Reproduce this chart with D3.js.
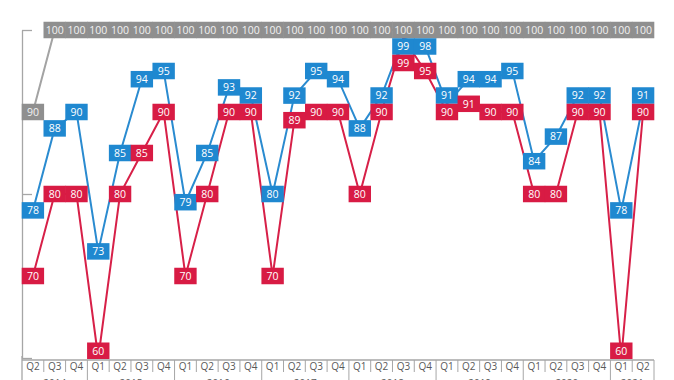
<!DOCTYPE html>
<html><head><meta charset="utf-8">
<script src="https://cdn.jsdelivr.net/npm/d3@7"></script>
<style>body{margin:0;background:#fff;} svg{display:block;font-family:"Open Sans",sans-serif;}</style>
</head><body><svg id="c" width="674" height="380"></svg>
<script>
const quarters = ["Q2","Q3","Q4","Q1","Q2","Q3","Q4","Q1","Q2","Q3","Q4","Q1","Q2","Q3","Q4","Q1","Q2","Q3","Q4","Q1","Q2","Q3","Q4","Q1","Q2","Q3","Q4","Q1","Q2"];
const years = ["2014","2015","2016","2017","2018","2019","2020","2021"];
const yearSpans = [3,4,4,4,4,4,4,2];
const grayValues = [90,100,100,100,100,100,100,100,100,100,100,100,100,100,100,100,100,100,100,100,100,100,100,100,100,100,100,100,100];
const blueValues = [78,88,90,73,85,94,95,79,85,93,92,80,92,95,94,88,92,99,98,91,94,94,95,84,87,92,92,78,91];
const redValues  = [70,80,80,60,80,85,90,70,80,90,90,70,89,90,90,80,90,99,95,90,91,90,90,80,80,90,90,60,90];
const yTicks = [60,80,100];

const svg = d3.select("#c");
const idx = d3.range(quarters.length);
const x = d3.scaleBand().domain(idx).range([22,654]).padding(0);
const y = d3.scaleLinear().domain([60,100]).range([358,30]);
const bw = x.bandwidth();
const cx = i => x(i) + bw/2;
const axisCol = "#a6a6a6";

// y axis
const ya = svg.append("g").attr("transform","translate(22,0)")
  .call(d3.axisLeft(y).tickValues(yTicks).tickSize(-10).tickSizeOuter(0).tickFormat(""));
ya.selectAll("path,line").attr("stroke",axisCol).attr("stroke-width",1.3);

// category axis
const axisY = 360;
svg.append("line").attr("x1",22).attr("x2",654).attr("y1",axisY).attr("y2",axisY).attr("stroke",axisCol).attr("stroke-width",1.3);
svg.append("line").attr("x1",22).attr("x2",22).attr("y1",356).attr("y2",380).attr("stroke",axisCol).attr("stroke-width",1.3);
// year boundaries
let starts = []; let acc = 0;
yearSpans.forEach(s => { starts.push(acc); acc += s; });
const yearBoundaryIdx = new Set(starts.concat([acc]));
d3.range(1, quarters.length+1).forEach(i => {
  const xx = i < quarters.length ? x(i) : x(quarters.length-1) + bw;
  const isYear = yearBoundaryIdx.has(i);
  svg.append("line").attr("x1",xx).attr("x2",xx).attr("y1",axisY).attr("y2", isYear ? 380 : 372)
    .attr("stroke",axisCol).attr("stroke-width",1);
});
svg.append("g").selectAll("text").data(idx).join("text")
  .attr("x", i => cx(i)).attr("y", 366).attr("dy","0.35em").attr("text-anchor","middle")
  .attr("font-size",10).attr("fill","#595959").text(i => quarters[i]);
svg.append("g").selectAll("text").data(years).join("text")
  .attr("x",(d,k) => x(starts[k]) + yearSpans[k]*bw/2).attr("y",387).attr("text-anchor","middle")
  .attr("font-size",10).attr("fill","#595959").text(d => d);

// series
const series = [
  {name:"gray", values:grayValues, line:"#a3a3a3", box:"#8f8f8f", text:"#f2f2f2"},
  {name:"blue", values:blueValues, line:"#2a8bd0", box:"#1f88d0", text:"#ffffff"},
  {name:"red",  values:redValues,  line:"#d72048", box:"#d81b44", text:"#ffffff"}
];
const line = d3.line().x((d,i) => cx(i)).y(d => y(d));
series.forEach(s => {
  svg.append("path").datum(s.values).attr("d", line).attr("fill","none")
    .attr("stroke", s.line).attr("stroke-width", 2);
});

// label layout with collision avoidance
const h = 16.5, maxC = 359 - h/2;
const labels = [];
idx.forEach(i => {
  const items = series.map((s,k) => ({s, k, i, v:s.values[i], y: Math.min(y(s.values[i]), maxC), fixed: s.name==="gray"}));
  items.sort((a,b) => a.y - b.y || a.k - b.k);
  for (let k = items.length-2; k >= 0; k--) {
    if (!items[k].fixed && items[k].y > items[k+1].y - h) items[k].y = items[k+1].y - h;
  }
  for (let k = 1; k < items.length; k++) {
    if (items[k].y < items[k-1].y + h) items[k].y = items[k-1].y + h;
  }
  items.forEach(it => labels.push(it));
});
labels.sort((a,b) => a.k - b.k);
const lg = svg.append("g");
lg.selectAll("rect").data(labels).join("rect")
  .attr("x", d => x(d.i) - 0.3).attr("y", d => d.y - h/2).attr("width", bw + 0.6).attr("height", h)
  .attr("fill", d => d.s.box);
lg.selectAll("text").data(labels).join("text")
  .attr("x", d => cx(d.i)).attr("y", d => d.y).attr("dy","0.36em").attr("text-anchor","middle")
  .attr("font-size",10.5).attr("fill", d => d.s.text).text(d => d.v);
</script></body></html>
